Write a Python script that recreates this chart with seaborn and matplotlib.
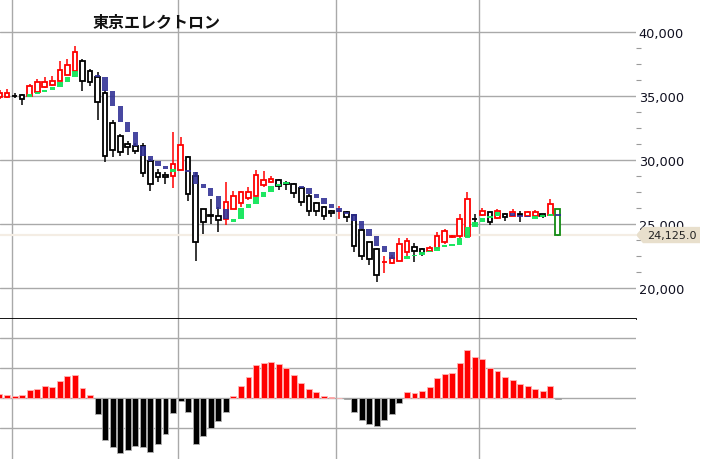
import numpy as np
import pandas as pd
import matplotlib
matplotlib.use("Agg")
import matplotlib.pyplot as plt
import matplotlib.transforms as mtransforms
from matplotlib.patches import Polygon
from matplotlib.ticker import FixedLocator, FuncFormatter
import seaborn as sns

# データ
title = "東京エレクトロン"
last_price = 24125.0

opens = [34950, 34960, 35050, 35090, 34990, 35300, 35690, 35870, 36210, 36660,
         36990, 37780, 37000, 36480, 35220, 32900, 31850, 31250, 31130, 31130,
         29950, 28980, 28830, 28770, 29240, 30210, 28770, 26130, 25700, 25650,
         25380, 26160, 26620, 27000, 27210, 28050, 28260, 28440, 28200, 28120,
         27800, 27210, 26630, 26300, 26030, 25990, 25950, 25700, 24540, 23560,
         23030, 21990, 21940, 22120, 22770, 23210, 23030, 22900, 23090, 23560,
         23980, 24030, 24030, 25400, 25720, 25890, 25440, 25770, 25640, 25770,
         25640, 25640, 25770, 25700, 26160]
highs = [35450, 35560, 35220, 35170, 35950, 36340, 36480, 36560, 37780, 37910,
         38900, 37900, 37150, 36860, 35500, 33100, 32000, 31520, 31300, 31300,
         30100, 29300, 29040, 32170, 31780, 30300, 29050, 26200, 26950, 26300,
         28250, 27600, 27600, 27860, 29220, 29160, 28770, 28500, 28320, 28200,
         27900, 27300, 26700, 26400, 26100, 26420, 26000, 25800, 24600, 23600,
         23100, 22470, 22550, 23870, 23870, 23500, 23100, 23240, 24350, 24600,
         24130, 25770, 27470, 25770, 26220, 25950, 26160, 25830, 26160, 26030,
         25990, 26110, 25800, 26950, 26200]
lows = [34800, 34860, 34850, 34300, 34990, 35300, 35600, 35800, 36210, 36660,
        36990, 35430, 35770, 33160, 29820, 30250, 30290, 30390, 30500, 28650,
        27600, 28250, 28120, 27780, 29240, 26810, 22070, 24200, 24990, 24340,
        24910, 26160, 26300, 26850, 27210, 27900, 28200, 27680, 27680, 27000,
        26420, 25640, 25640, 25330, 25510, 25380, 25120, 22770, 22200, 21780,
        20470, 21150, 21860, 22120, 22500, 22040, 22500, 22850, 23000, 23400,
        23900, 23900, 24030, 24870, 25650, 24910, 25380, 25250, 25600, 25170,
        25600, 25600, 25440, 25700, 24050]
closes = [35250, 35230, 35000, 34780, 35770, 36080, 36130, 36210, 37070, 37440,
          38480, 36210, 36080, 34520, 30340, 30790, 30650, 30990, 30730, 28980,
          28120, 28650, 28650, 29690, 31180, 27340, 23600, 25170, 25650, 25310,
          26740, 27200, 27470, 27470, 28830, 28470, 28510, 27990, 28150, 27390,
          26690, 26030, 26030, 25640, 25850, 26030, 25510, 23290, 22510, 22250,
          20990, 22010, 22300, 23420, 23690, 22850, 22720, 23090, 24030, 24460,
          24030, 25380, 26950, 25380, 25990, 25120, 26030, 25510, 25950, 25700,
          25900, 25950, 25600, 26560, 24125]

nan = np.nan
sar = [nan, nan, nan, nan, 35170, 35300, 35510, 35690, 36080, 36520,
       36970, nan, nan, 36480, 35430, 34200, 32950, 32170, 31120, 30340,
       29950, 29560, 29300, 29260, nan, 29040, 28120, 27790, 27160, 26170,
       25380, 25380, 26220, 26560, 27080, 27520, 27940, 28120, 28250, nan,
       27790, 27340, 27000, 26560, 26220, 25950, 25770, 25250, 24600, 24030,
       23290, 22770, 22250, nan, 22460, 22560, 22770, 22900, 23210, 23350,
       23380, 23870, 24730, 25120, 25440, 25640, 25950, nan, 25640, 25600,
       25580, 25600, 25640, 25770, 25600]
sar_trend = ["", "", "", "", "u", "u", "u", "u", "u", "u",
             "u", "", "", "d", "d", "d", "d", "d", "d", "d",
             "d", "d", "d", "u", "", "d", "d", "d", "d", "d",
             "d", "u", "u", "u", "u", "u", "u", "u", "u", "",
             "d", "d", "d", "d", "d", "d", "d", "d", "d", "d",
             "d", "d", "d", "", "u", "u", "u", "u", "u", "u",
             "u", "u", "u", "u", "u", "u", "u", "", "d", "d",
             "d", "u", "u", "u", "d"]

hist = [0.13, 0.10, 0.07, 0.09, 0.27, 0.31, 0.41, 0.38, 0.58, 0.72,
        0.78, 0.32, 0.10, -0.52, -1.39, -1.63, -1.83, -1.72, -1.59, -1.63,
        -1.80, -1.53, -1.20, -0.51, -0.09, -0.48, -1.53, -1.28, -1.01, -0.76,
        -0.47, 0.08, 0.41, 0.70, 1.11, 1.16, 1.21, 1.12, 1.01, 0.78,
        0.51, 0.31, 0.21, 0.08, 0.04, 0.01, -0.03, -0.47, -0.72, -0.87,
        -0.93, -0.72, -0.53, -0.16, 0.19, 0.18, 0.22, 0.37, 0.68, 0.81,
        0.84, 1.17, 1.60, 1.37, 1.29, 1.00, 0.90, 0.71, 0.61, 0.48,
        0.41, 0.31, 0.24, 0.39, -0.02]

month_lines = [1.6, 23.6, 44.65, 63.6]

# スタイル
sns.set_style("white")
plt.rcParams["font.family"] = ["DejaVu Sans", "Noto Sans CJK JP"]

GRID = "#a9a9a9"
RED = "#ff0000"
BLACK = "#000000"
GREEN_CANDLE = "#138a13"
SAR_UP = "#12e65a"
SAR_DN = "#2e2e94"

n = len(closes)
x = np.arange(n)
xlim = (0.066, 84.36)

fig = plt.figure(figsize=(7.04, 4.6), dpi=100)
ax = fig.add_axes([0, 1 - 320 / 460, 636 / 704, 320 / 460])
ax2 = fig.add_axes([0, 0, 636 / 704, 140 / 460])

# ---- 価格チャート ----
ax.set_xlim(*xlim)
ax.set_ylim(17551, 42607)
ax.set_xticks([])
ax.yaxis.tick_right()
ax.yaxis.set_major_locator(FixedLocator(np.arange(20000, 40001, 5000)))
ax.yaxis.set_minor_locator(FixedLocator([v for v in np.arange(20000, 40001, 1250) if v % 5000]))
ax.yaxis.set_major_formatter(FuncFormatter(lambda v, p: f"{v:,.0f}"))
ax.tick_params(axis="y", which="major", length=0, pad=2, labelsize=9.3, labelcolor="#101020")
ax.tick_params(axis="y", which="minor", length=3.6, width=0.8, color="#9a9a9a", direction="out")
ax.grid(axis="y", color=GRID, lw=1)
for s in ["top", "left", "right"]:
    ax.spines[s].set_visible(False)
ax.spines["bottom"].set_color("black")
ax.spines["bottom"].set_linewidth(1.3)
for v in month_lines:
    ax.axvline(v, color=GRID, lw=1, zorder=0)

# 現在値ライン
ax.axhline(last_price, color="#f4ede4", lw=1.6, zorder=1)

# ローソク足
colors = [RED if c >= o else BLACK for o, c in zip(opens, closes)]
colors[-1] = GREEN_CANDLE
ax.vlines(x, lows, highs, colors=colors, lw=1.1, zorder=3)
body_lo = np.minimum(opens, closes)
body_h = np.abs(np.array(closes) - np.array(opens))
ax.bar(x, body_h, bottom=body_lo, width=0.62, facecolor="white",
       edgecolor=colors, linewidth=1.3, zorder=4)

# SAR マーカー
for i in range(n):
    v = sar[i]
    if np.isnan(v):
        continue
    up = sar_trend[i] == "u"
    if i > 0 and not np.isnan(sar[i - 1]) and sar_trend[i - 1] == sar_trend[i]:
        a, b = sar[i - 1], v
    else:
        a, b = (v - 200, v) if up else (v + 200, v)
    lo, hi = min(a, b), max(a, b)
    if hi - lo < 120:
        mid = (hi + lo) / 2
        lo, hi = mid - 60, mid + 60
    ax.bar(i, hi - lo, bottom=lo, width=0.72, color=SAR_UP if up else SAR_DN,
           alpha=0.95 if up else 0.88, linewidth=0, zorder=5)

# 現在値タグ
tr = mtransforms.blended_transform_factory(ax.transAxes, ax.transData)
hh = 640
tag = Polygon([(1.0, last_price), (1.011, last_price + hh), (1.1006, last_price + hh),
               (1.1006, last_price - hh), (1.011, last_price - hh)],
              closed=True, transform=tr, facecolor="#e8dfcc", edgecolor="none",
              clip_on=False, zorder=10)
ax.add_patch(tag)
ax.text(1.057, last_price, f"{last_price:,.1f}", transform=tr, ha="center",
        va="center", fontsize=8, color="#222222", clip_on=False, zorder=11)

# タイトル
fig.text(93 / 704, 1 - 23 / 460, title, fontsize=11.5, fontweight="bold",
         family=["Noto Sans CJK JP", "DejaVu Sans"], va="center", ha="left", color="#111111")

# ---- ヒストグラム ----
df = pd.DataFrame({"idx": x, "hist": hist,
                   "sign": ["pos" if v >= 0 else "neg" for v in hist]})
sns.barplot(data=df, x="idx", y="hist", hue="sign",
            palette={"pos": RED, "neg": BLACK}, native_scale=True, width=0.78,
            dodge=False, legend=False, saturation=1, errorbar=None, ax=ax2, zorder=3)
for p in ax2.patches:
    fc = p.get_facecolor()
    p.set_edgecolor("#ffb4b4" if fc[0] > 0.5 else "#b0b0b0")
    p.set_linewidth(0.6)
ax2.set_xlim(*xlim)
ax2.set_ylim(-2.033, 2.633)
ax2.set_xticks([])
ax2.set_yticks([])
ax2.set_xlabel("")
ax2.set_ylabel("")
for s in ax2.spines.values():
    s.set_visible(False)
for v in [-1, 0, 1, 2]:
    ax2.axhline(v, color=GRID, lw=1, zorder=0)
for v in month_lines:
    ax2.axvline(v, color=GRID, lw=1, zorder=0)

fig.savefig("out.png", dpi=100)
plt.close(fig)
